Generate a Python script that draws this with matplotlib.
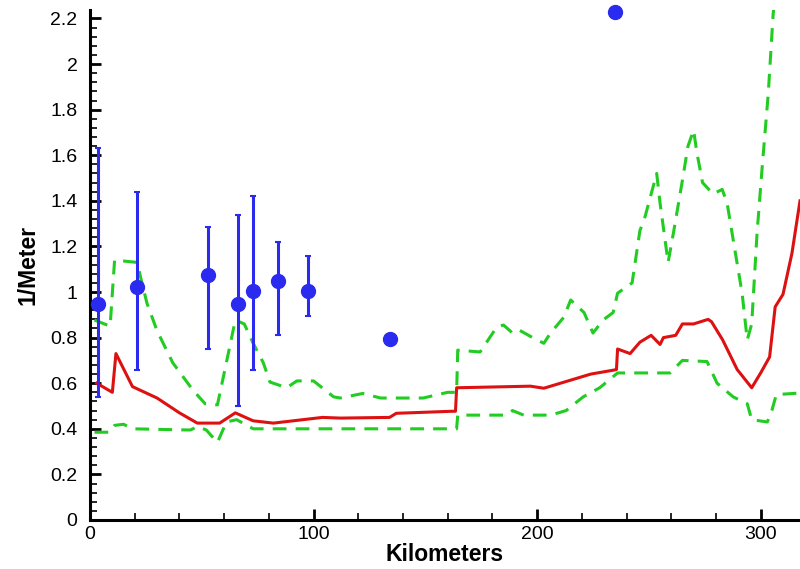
import matplotlib
matplotlib.use("Agg")
import matplotlib.pyplot as plt
from matplotlib.ticker import MultipleLocator, FuncFormatter

plt.rcParams['font.family'] = ['Liberation Sans', 'DejaVu Sans']

# Observed points with error bars
obs_x = [3.6, 21, 53, 66, 73, 84, 97.5]
obs_y = [0.947, 1.02, 1.075, 0.947, 1.004, 1.048, 1.004]
obs_top = [1.63, 1.44, 1.285, 1.34, 1.42, 1.22, 1.16]
obs_bot = [0.54, 0.66, 0.75, 0.50, 0.66, 0.81, 0.895]

# Observed points without error bars
pt_x = [134, 235]
pt_y = [0.794, 2.23]

# Red solid line (mean)
mean_x = [3, 10, 11.6, 19, 30, 40, 48, 49, 58, 65, 73, 82, 104, 112, 134, 137, 162, 163.5,
          164, 197, 203, 224, 234, 235.5, 236, 241.6, 246, 251, 255, 256.5, 262, 265, 270,
          276.5, 278, 283, 289.5, 296, 300, 304, 306.5, 310, 314, 317.6]
mean_y = [0.60, 0.56, 0.73, 0.585, 0.535, 0.47, 0.425, 0.425, 0.425, 0.47, 0.435, 0.425, 0.45,
          0.447, 0.45, 0.468, 0.477, 0.477,
          0.58, 0.587, 0.578, 0.64, 0.657, 0.66, 0.75, 0.73, 0.78, 0.81, 0.77, 0.80, 0.81, 0.86,
          0.86, 0.88, 0.87, 0.79, 0.66, 0.58, 0.645, 0.715, 0.935, 0.99, 1.17, 1.40]

# Green dashed upper bound
up_x = [2, 9, 11, 21, 25.5, 30, 37, 46, 51.5, 57, 61, 65, 69, 73, 77.5, 80.5, 88, 92.5, 100,
        109, 112, 122, 130, 139, 149, 160, 164, 164.5, 174.5, 182, 185, 189, 192, 198, 203,
        206, 212, 215, 221, 225, 229.5, 234, 236, 242.5, 246, 248, 253.5, 255, 258.6, 261,
        265, 267.5, 270, 271.5, 274, 278.7, 282.8, 285, 287.7, 291.7, 294, 296, 298.4, 300.7,
        303.4, 305.6, 307]
up_y = [0.877, 0.85, 1.14, 1.13, 0.95, 0.83, 0.69, 0.57, 0.51, 0.505, 0.69, 0.877, 0.86, 0.775,
        0.69, 0.605, 0.58, 0.61, 0.61, 0.54, 0.535, 0.555, 0.535, 0.535, 0.535, 0.56, 0.56,
        0.745, 0.737, 0.847, 0.855, 0.82, 0.833, 0.80, 0.775, 0.82, 0.89, 0.965, 0.91, 0.82,
        0.877, 0.91, 0.995, 1.04, 1.27, 1.32, 1.52, 1.39, 1.13, 1.26, 1.49, 1.64, 1.71, 1.61,
        1.48, 1.43, 1.45, 1.39, 1.23, 0.995, 0.79, 0.86, 1.26, 1.55, 1.87, 2.22, 2.35]

# Green dashed lower bound
lo_x = [2, 9, 11, 15, 19, 43, 45, 48, 52, 57, 61, 65.6, 73, 100, 164, 164.5, 186, 189, 194,
        206, 213, 220.6, 228, 236, 259.5, 265, 276, 280.5, 287.7, 294, 296, 303, 305, 307, 317.6]
lo_y = [0.385, 0.385, 0.415, 0.42, 0.40, 0.395, 0.395, 0.41, 0.395, 0.34, 0.43, 0.44, 0.40,
        0.40, 0.40, 0.46, 0.46, 0.48, 0.46, 0.46, 0.48, 0.54, 0.58, 0.645, 0.645, 0.70, 0.695,
        0.60, 0.54, 0.51, 0.44, 0.43, 0.48, 0.55, 0.557]

fig = plt.figure(figsize=(8.0, 5.69), dpi=100)
ax = fig.add_axes([90 / 800, 49 / 569, 710 / 800, 510 / 569])

green = '#22cc22'
ax.plot(up_x, up_y, color=green, lw=2.2, dashes=[4.5, 3])
ax.plot(lo_x, lo_y, color=green, lw=2.2, dashes=[4.5, 3])
ax.plot(mean_x, mean_y, color='#dd1111', lw=2.2)

blue = '#2b2bf0'
yerr = [[y - b for y, b in zip(obs_y, obs_bot)], [t - y for y, t in zip(obs_y, obs_top)]]
ax.errorbar(obs_x, obs_y, yerr=yerr, fmt='o', color=blue, ms=10, elinewidth=2.2,
            capsize=2.5, capthick=1.5, zorder=5)
ax.plot(pt_x, pt_y, 'o', color=blue, ms=10, zorder=5, clip_on=False)

ax.set_xlim(0, 317.6)
ax.set_ylim(0, 2.237)

ax.spines['top'].set_visible(False)
ax.spines['right'].set_visible(False)
ax.spines['left'].set_linewidth(2.2)
ax.spines['bottom'].set_linewidth(2.2)

ax.xaxis.set_major_locator(MultipleLocator(100))
ax.xaxis.set_minor_locator(MultipleLocator(20))
ax.yaxis.set_major_locator(MultipleLocator(0.2))
ax.yaxis.set_minor_locator(MultipleLocator(0.04))
ax.yaxis.set_major_formatter(FuncFormatter(lambda v, p: f"{v:g}"))

ax.tick_params(which='major', direction='in', length=8, width=2, labelsize=14, pad=9)
ax.tick_params(which='minor', direction='in', length=5, width=1.2)
ax.tick_params(axis='x', which='major', pad=4)

ax.set_xlabel('Kilometers', fontsize=16.5, fontweight='bold', labelpad=0)
ax.set_ylabel('1/Meter', fontsize=16.5, fontweight='bold', labelpad=8)

fig.savefig('out.png', dpi=100)
